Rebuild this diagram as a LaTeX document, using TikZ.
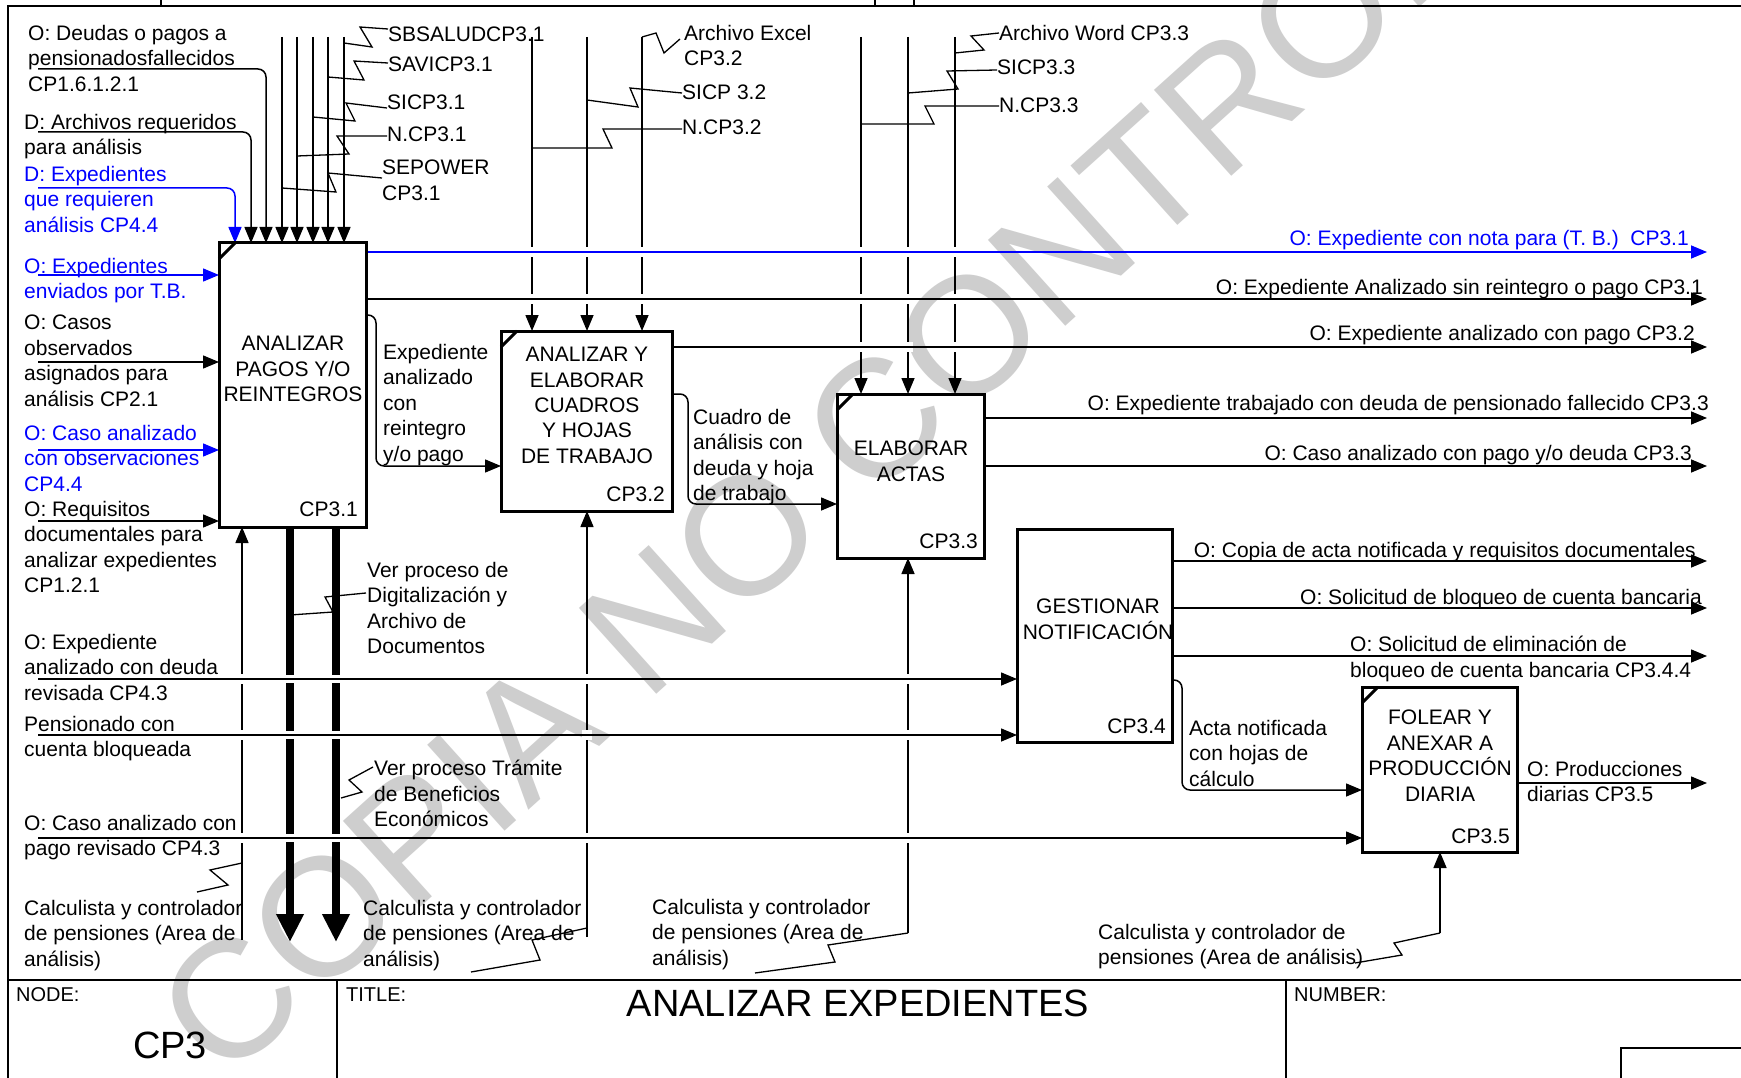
\documentclass[tikz,border=0pt]{standalone}
\usepackage{fontspec}
\setmainfont{Liberation Sans}
\usetikzlibrary{arrows.meta}
\definecolor{idefblue}{RGB}{0,0,255}
\definecolor{wm}{RGB}{206,206,206}
\tikzset{
  lbl/.style={inner sep=0pt, font=\fontsize{21}{25.4}\selectfont, align=left, anchor=north west},
  rlbl/.style={inner sep=0pt, font=\fontsize{21}{25.4}\selectfont, align=right, anchor=north east},
  ctext/.style={inner sep=0pt, font=\fontsize{21}{25.4}\selectfont, align=center, anchor=north},
  arr/.style={line width=1.5pt, -{Triangle[length=16pt,width=13pt]}},
  thk/.style={line width=8pt, -{Triangle[length=28pt,width=26pt]}},
  actbox/.style={inner sep=0pt, outer sep=0pt, anchor=north west},
  sq/.style={line width=1.3pt},
  frm/.style={line width=2pt},
}
\begin{document}
\begin{tikzpicture}[x=1pt,y=-1pt]
\useasboundingbox (0,0) rectangle (1741,1078);
\clip (0,0) rectangle (1741,1078);
\fill[white] (0,0) rectangle (1741,1078);
% watermark
\node[rotate=42, anchor=base west, text=wm, inner sep=0pt, font=\fontsize{168}{168}\selectfont] (wmk) at (223,1085) {COPIA NO CONTROLADA};
% frame
\draw[frm] (8,1078) -- (8,6) -- (1741,6);
\draw[frm] (8,980) -- (1741,980);
\draw[frm] (337,980) -- (337,1078);
\draw[frm] (1286,980) -- (1286,1078);
\draw[frm] (1621,1078) -- (1621,1048) -- (1741,1048);
\draw[frm] (161,0) -- (161,6);
\draw[frm] (875,0) -- (875,6);
\draw[frm] (914,0) -- (914,6);
% box placeholders
\path (219,243) node[actbox, minimum width=147pt, minimum height=284pt] (a1) {};
\path (501,331) node[actbox, minimum width=171pt, minimum height=180pt] (a2) {};
\path (837,394) node[actbox, minimum width=147pt, minimum height=164pt] (a3) {};
\path (1017,529) node[actbox, minimum width=155pt, minimum height=213pt] (a4) {};
\path (1362,687) node[actbox, minimum width=155pt, minimum height=165pt] (a5) {};
% controls from top
\foreach \x in {282,297,313,328,344} \draw[arr] (\x,37) -- (\x,37 |- a1.north);
\foreach \x in {532,587,642} \draw[arr] (\x,37) -- (\x,37 |- a2.north);
\foreach \x in {861,908,955} \draw[arr] (\x,37) -- (\x,37 |- a3.north);
% mechanisms
\draw[arr] (242,940) -- (242,940 |- a1.south);
\draw[arr] (587,937) -- (587,937 |- a2.south);
\draw[arr] (908,933) -- (908,933 |- a3.south);
\draw[arr] (1440,933) -- (1440,933 |- a5.south);
\draw[thk] (290,0 |- a1.south) -- (290,942);
\draw[thk] (336,0 |- a1.south) -- (336,942);
% gaps at crossings
\foreach \x in {532,587,642,861,908,955} \foreach \y in {252,299} \fill[white] (\x-5,\y-5) rectangle (\x+5,\y+5);
\foreach \x in {861,908,955} \fill[white] (\x-5,342) rectangle (\x+5,352);
\foreach \x in {242,587,908} \foreach \y in {679,735,838} \fill[white] (\x-5,\y-5) rectangle (\x+5,\y+5);
\foreach \x in {290,336} \foreach \y in {679,735,838} \fill[white] (\x-7,\y-4) rectangle (\x+7,\y+4);
% inputs
\draw[arr, idefblue] (38,275) -- (38,275 -| a1.west);
\draw[arr] (38,362) -- (38,362 -| a1.west);
\draw[arr, idefblue] (38,450) -- (38,450 -| a1.west);
\draw[arr] (38,521) -- (38,521 -| a1.west);
\draw[arr] (38,679) -- (38,679 -| a4.west);
\draw[arr] (38,735) -- (38,735 -| a4.west);
\draw[arr] (38,838) -- (38,838 -| a5.west);
% controls from left
\draw[arr, idefblue, rounded corners=8pt] (38,188) -- (235,188) -- (235,188 |- a1.north);
\draw[arr, rounded corners=8pt] (38,132) -- (251,132) -- (251,132 |- a1.north);
\draw[arr, rounded corners=8pt] (38,69) -- (266,69) -- (266,69 |- a1.north);
% outputs
\draw[arr, idefblue] (a1.east |- 0,252) -- (1707,252);
\draw[arr] (a1.east |- 0,299) -- (1707,299);
\draw[arr, rounded corners=8pt] (a1.east |- 0,315) -- (376,315) -- (376,466) -- (a2.west |- 0,466);
\draw[arr] (a2.east |- 0,347) -- (1707,347);
\draw[arr, rounded corners=8pt] (a2.east |- 0,394) -- (688,394) -- (688,504) -- (a3.west |- 0,504);
\draw[arr] (a3.east |- 0,418) -- (1707,418);
\draw[arr] (a3.east |- 0,466) -- (1707,466);
\draw[arr] (a4.east |- 0,561) -- (1707,561);
\draw[arr] (a4.east |- 0,608) -- (1707,608);
\draw[arr] (a4.east |- 0,656) -- (1707,656);
\draw[arr, rounded corners=8pt] (a4.east |- 0,680) -- (1182,680) -- (1182,790) -- (a5.west |- 0,790);
\draw[arr] (a5.east |- 0,783) -- (1707,783);
% boxes drawn
\foreach \b in {a1,a2,a3,a4,a5} \draw[line width=3pt] (\b.north west) rectangle (\b.south east);
\foreach \b in {a1,a2,a3,a5} \draw[line width=3pt] ([yshift=-16pt]\b.north west) -- ([xshift=16pt]\b.north west);
% squiggles
\draw[sq] (344,43) -- (372,47) -- (360,27) -- (388,29);
\draw[sq] (328,77) -- (364,80) -- (354,61) -- (388,63);
\draw[sq] (313,117) -- (355,121) -- (346,103) -- (387,108);
\draw[sq] (297,156) -- (349,154) -- (337,136) -- (387,136);
\draw[sq] (282,188) -- (336,192) -- (328,173) -- (382,178);
\draw[sq] (642,37) -- (656,33) -- (664,53) -- (680,39);
\draw[sq] (587,100) -- (638,107) -- (630,88) -- (682,93);
\draw[sq] (532,148) -- (612,148) -- (603,129) -- (682,129);
\draw[sq] (955,53) -- (984,50) -- (971,36) -- (999,33);
\draw[sq] (908,93) -- (958,89) -- (947,71) -- (997,70);
\draw[sq] (861,124) -- (934,124) -- (925,106) -- (999,106);
\draw[sq] (290,615) -- (333,612) -- (325,597) -- (366,593);
\draw[sq] (341,798) -- (362,792) -- (349,780) -- (373,767);
\draw[sq] (242,863) -- (210,870) -- (228,885) -- (197,892);
\draw[sq] (587,928) -- (532,940) -- (540,960) -- (471,972);
\draw[sq] (908,933) -- (828,945) -- (835,962) -- (755,973);
\draw[sq] (1440,933) -- (1394,943) -- (1402,955) -- (1355,963);
% box texts
\node[ctext] (t1) at (293,336) {ANALIZAR\\PAGOS Y/O\\REINTEGROS};
\node[rlbl] (c1) at (358,502) {CP3.1};
\node[ctext] (t2) at (587,347) {ANALIZAR Y\\ELABORAR\\CUADROS\\Y HOJAS\\DE TRABAJO};
\node[rlbl] (c2) at (665,487) {CP3.2};
\node[ctext] (t3) at (911,441) {ELABORAR\\ACTAS};
\node[rlbl] (c3) at (978,534) {CP3.3};
\node[ctext] (t4) at (1098,599) {GESTIONAR\\NOTIFICACIÓN};
\node[rlbl] (c4) at (1166,719) {CP3.4};
\node[ctext] (t5) at (1440,710) {FOLEAR Y\\ANEXAR A\\PRODUCCIÓN\\DIARIA};
\node[rlbl] (c5) at (1510,829) {CP3.5};
% left labels
\node[lbl] (l1) at (28,25) {O: Deudas o pagos a\\pensionadosfallecidos\\CP1.6.1.2.1};
\node[lbl] (l2) at (24,114) {D: Archivos requeridos\\para análisis};
\node[lbl, text=idefblue] (l3) at (24,166) {D: Expedientes\\que requieren\\análisis CP4.4};
\node[lbl, text=idefblue] (l4) at (24,258) {O: Expedientes\\enviados por T.B.};
\node[lbl] (l5) at (24,315) {O: Casos\\observados\\asignados para\\análisis CP2.1};
\node[lbl, text=idefblue] (l6) at (24,425) {O: Caso analizado\\con observaciones\\CP4.4};
\node[lbl] (l7) at (24,501) {O: Requisitos\\documentales para\\analizar expedientes\\CP1.2.1};
\node[lbl] (l8) at (24,634) {O: Expediente\\analizado con deuda\\revisada CP4.3};
\node[lbl] (l9) at (24,716) {Pensionado con\\cuenta bloqueada};
\node[lbl] (l10) at (24,815) {O: Caso analizado con\\pago revisado CP4.3};
\node[lbl] (l11) at (24,900) {Calculista y controlador\\de pensiones (Area de\\análisis)};
% middle labels
\node[lbl] (l12) at (383,344) {Expediente\\analizado\\con\\reintegro\\y/o pago};
\node[lbl] (l13) at (367,562) {Ver proceso de\\Digitalización y\\Archivo de\\Documentos};
\node[lbl] (l14) at (374,760) {Ver proceso Trámite\\de Beneficios\\Económicos};
\node[lbl] (l15) at (363,900) {Calculista y controlador\\de pensiones (Area de\\análisis)};
\node[lbl] (l16) at (693,409) {Cuadro de\\análisis con\\deuda y hoja\\de trabajo};
\node[lbl] (l17) at (652,899) {Calculista y controlador\\de pensiones (Area de\\análisis)};
\node[lbl] (l18) at (1189,720) {Acta notificada\\con hojas de\\cálculo};
\node[lbl] (l19) at (1098,924) {Calculista y controlador de\\pensiones (Area de análisis)};
\node[lbl] (l20) at (1527,761) {O: Producciones\\diarias CP3.5};
\node[lbl] (l21) at (1350,636) {O: Solicitud de eliminación de\\bloqueo de cuenta bancaria CP3.4.4};
% top labels
\node[lbl] (s1) at (388,27) {SBSALUDCP3.1};
\node[lbl] (s2) at (388,57) {SAVICP3.1};
\node[lbl] (s3) at (387,95) {SICP3.1};
\node[lbl] (s4) at (387,127) {N.CP3.1};
\node[lbl] (s5) at (382,160) {SEPOWER\\CP3.1};
\node[lbl] (s6) at (684,25) {Archivo Excel\\CP3.2};
\node[lbl] (s7) at (682,85) {SICP 3.2};
\node[lbl] (s8) at (682,120) {N.CP3.2};
\node[lbl] (s9) at (999,25) {Archivo Word CP3.3};
\node[lbl] (s10) at (997,60) {SICP3.3};
\node[lbl] (s11) at (999,98) {N.CP3.3};
% right labels
\node[rlbl, text=idefblue] (r1) at (1689,230) {O: Expediente con nota para (T. B.)\ \ CP3.1};
\node[rlbl] (r2) at (1703,279) {O: Expediente Analizado sin reintegro o pago CP3.1};
\node[rlbl] (r3) at (1695,325) {O: Expediente analizado con pago CP3.2};
\node[rlbl] (r4) at (1709,395) {O: Expediente trabajado con deuda de pensionado fallecido CP3.3};
\node[rlbl] (r5) at (1692,445) {O: Caso analizado con pago y/o deuda CP3.3};
\node[rlbl] (r6) at (1696,542) {O: Copia de acta notificada y requisitos documentales};
\node[rlbl] (r7) at (1702,589) {O: Solicitud de bloqueo de cuenta bancaria};
% title block
\node[inner sep=0pt, anchor=west, font=\fontsize{20}{24}\selectfont] (nodelbl) at (16,995) {NODE:};
\node[inner sep=0pt, anchor=west, font=\fontsize{20}{24}\selectfont] (titlelbl) at (346,995) {TITLE:};
\node[inner sep=0pt, anchor=west, font=\fontsize{20}{24}\selectfont] (numlbl) at (1294,995) {NUMBER:};
\node[inner sep=0pt, font=\fontsize{38}{40}\selectfont] (nodeval) at (170,1045) {CP3};
\node[inner sep=0pt, font=\fontsize{38}{40}\selectfont] (titleval) at (858,1003) {ANALIZAR EXPEDIENTES};
\end{tikzpicture}
\end{document}
